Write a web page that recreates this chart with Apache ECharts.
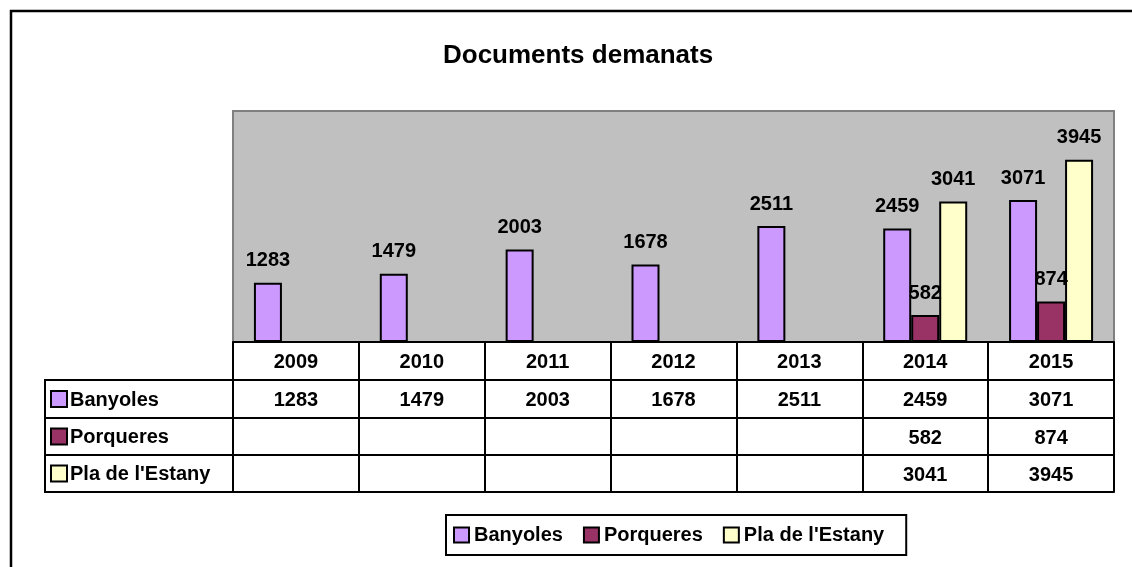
<!DOCTYPE html>
<html><head><meta charset="utf-8">
<script src="https://cdn.jsdelivr.net/npm/echarts@6/dist/echarts.min.js"></script>
<style>html,body{margin:0;padding:0;background:#fff}#c{width:1132px;height:567px}</style>
</head><body><div id="c"></div>
<script>
const titleText = 'Documents demanats';
const categories = ['2009', '2010', '2011', '2012', '2013', '2014', '2015'];
const banyoles = [1283, 1479, 2003, 1678, 2511, 2459, 3071];
const porqueres = [null, null, null, null, null, 582, 874];
const plaEstany = [null, null, null, null, null, 3041, 3945];
const seriesNames = ['Banyoles', 'Porqueres', "Pla de l'Estany"];
const seriesValues = [banyoles, porqueres, plaEstany];
const colors = ['#CC99FF', '#993366', '#FFFFCC'];

const FONT = "'Liberation Sans', Arial, sans-serif";
const W = 1132, H = 567;
const GL = 233, GR = 18, GT = 111, GB = 225;
const rowOffsets = [0, 38, 76, 113, 150];
const yAxisBase = H - GB;

function tableAxis(offset, values, tickLen) {
  return {
    type: 'category', data: categories, gridIndex: 0, position: 'bottom',
    offset: offset, boundaryGap: true,
    axisLine: { show: true, onZero: false, lineStyle: { color: '#000', width: 2 } },
    axisTick: { show: tickLen > 0, interval: 0, length: tickLen, inside: false,
      lineStyle: { color: '#000', width: 2 } },
    axisLabel: { show: !!values, interval: 0, margin: 10,
      formatter: (v, i) => values ? (values[i] == null ? '' : String(values[i])) : '',
      fontFamily: FONT, fontWeight: 'bold', fontSize: 20, color: '#000' },
    splitLine: { show: false }
  };
}

const xAxes = [
  tableAxis(rowOffsets[0], categories, rowOffsets[1] - rowOffsets[0]),
  tableAxis(rowOffsets[1], banyoles, rowOffsets[2] - rowOffsets[1]),
  tableAxis(rowOffsets[2], porqueres, rowOffsets[3] - rowOffsets[2]),
  tableAxis(rowOffsets[3], plaEstany, rowOffsets[4] - rowOffsets[3]),
  tableAxis(rowOffsets[4], null, 0)
];

const graphics = [
  { type: 'rect', shape: { x: 11, y: 11, width: W + 20, height: H + 20 },
    style: { fill: 'none', stroke: '#000', lineWidth: 2.5 }, silent: true },
  { type: 'line', shape: { x1: 45, y1: yAxisBase + rowOffsets[1], x2: 45, y2: yAxisBase + rowOffsets[4] },
    style: { stroke: '#000', lineWidth: 2 } }
];
for (let r = 1; r <= 4; r++) {
  graphics.push({ type: 'line', shape: { x1: 44, y1: yAxisBase + rowOffsets[r], x2: GL, y2: yAxisBase + rowOffsets[r] },
    style: { stroke: '#000', lineWidth: 2 } });
}
for (let i = 0; i < 3; i++) {
  const cy = yAxisBase + (rowOffsets[i + 1] + rowOffsets[i + 2]) / 2;
  graphics.push({ type: 'rect', shape: { x: 51, y: cy - 8, width: 16, height: 16 },
    style: { fill: colors[i], stroke: '#000', lineWidth: 2 } });
  graphics.push({ type: 'text', x: 70, y: cy + 1,
    style: { text: seriesNames[i], fill: '#000', font: 'bold 20px ' + FONT, verticalAlign: 'middle', align: 'left' } });
}

const chart = echarts.init(document.getElementById('c'), null, { renderer: 'canvas' });
chart.setOption({
  animation: false,
  backgroundColor: '#fff',
  title: { text: titleText, left: 443, top: 43, padding: 0,
    textStyle: { fontFamily: FONT, fontWeight: 'bold', fontSize: 26, color: '#000' } },
  grid: { left: GL, right: GR, top: GT, bottom: GB, show: true,
    backgroundColor: '#C0C0C0', borderColor: '#808080', borderWidth: 2 },
  xAxis: xAxes,
  yAxis: { type: 'value', min: 0, max: 5000, show: false, splitLine: { show: false } },
  legend: {
    data: seriesNames, left: 446, top: 515, orient: 'horizontal', icon: 'rect',
    itemWidth: 15, itemHeight: 15, itemGap: 20, padding: [10, 22, 10, 7],
    borderColor: '#000', borderWidth: 2, backgroundColor: '#fff',
    itemStyle: { borderColor: '#000', borderWidth: 2 },
    textStyle: { fontFamily: FONT, fontWeight: 'bold', fontSize: 20, color: '#000' }
  },
  series: seriesNames.map((name, i) => ({
    name: name, type: 'bar', xAxisIndex: 0, data: seriesValues[i],
    barWidth: 28, barGap: '0%',
    itemStyle: { color: colors[i], borderColor: '#000', borderWidth: 2 },
    label: { show: true, position: 'top', distance: 12,
      fontFamily: FONT, fontWeight: 'bold', fontSize: 20, color: '#000' }
  })),
  graphic: graphics
});
</script></body></html>
